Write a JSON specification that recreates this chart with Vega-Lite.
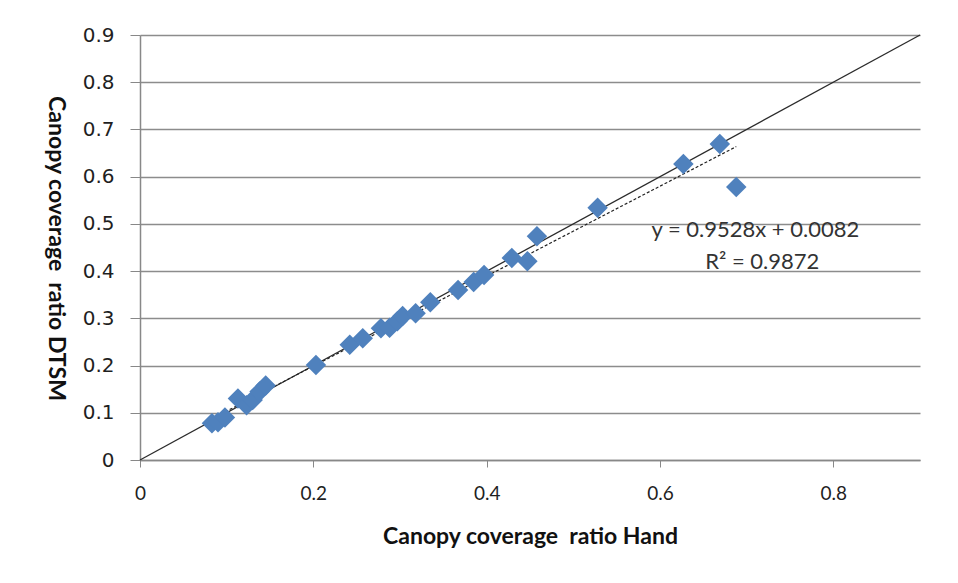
{
  "$schema": "https://vega.github.io/schema/vega-lite/v6.json",
  "autosize": {"type": "none"},
  "width": 780,
  "height": 425,
  "padding": {"left": 140, "top": 35, "right": 38, "bottom": 123},
  "background": "white",
  "config": {
    "view": {"stroke": null},
    "font": "Lato",
    "axis": {
      "titleFont": "Lato",
      "labelColor": "#1f1f1f",
      "titleColor": "#111111",
      "domainColor": "#888888",
      "tickColor": "#888888",
      "gridColor": "#8c8c8c",
      "titleFontSize": 23,
      "titleFontWeight": "bold",
      "labelFlush": false,
      "format": "~g"
    }
  },
  "datasets": {
    "obs": [
      {"hand": 0.083, "dtsm": 0.078},
      {"hand": 0.090, "dtsm": 0.080},
      {"hand": 0.098, "dtsm": 0.090},
      {"hand": 0.113, "dtsm": 0.130},
      {"hand": 0.123, "dtsm": 0.116},
      {"hand": 0.130, "dtsm": 0.127},
      {"hand": 0.138, "dtsm": 0.145},
      {"hand": 0.145, "dtsm": 0.158},
      {"hand": 0.203, "dtsm": 0.201},
      {"hand": 0.242, "dtsm": 0.244},
      {"hand": 0.257, "dtsm": 0.258},
      {"hand": 0.278, "dtsm": 0.279},
      {"hand": 0.288, "dtsm": 0.280},
      {"hand": 0.297, "dtsm": 0.294},
      {"hand": 0.303, "dtsm": 0.305},
      {"hand": 0.318, "dtsm": 0.311},
      {"hand": 0.335, "dtsm": 0.334},
      {"hand": 0.367, "dtsm": 0.360},
      {"hand": 0.385, "dtsm": 0.377},
      {"hand": 0.397, "dtsm": 0.392},
      {"hand": 0.429, "dtsm": 0.428},
      {"hand": 0.447, "dtsm": 0.421},
      {"hand": 0.458, "dtsm": 0.474},
      {"hand": 0.528, "dtsm": 0.534},
      {"hand": 0.627, "dtsm": 0.627},
      {"hand": 0.669, "dtsm": 0.669},
      {"hand": 0.688, "dtsm": 0.578}
    ],
    "oneToOne": [{"x0": 0, "y0": 0, "x1": 0.9, "y1": 0.9}],
    "fit": [{"x0": 0.083, "y0": 0.0873, "x1": 0.688, "y1": 0.6637}],
    "labels": [
      {"hand": 0.71, "dtsm": 0.487, "text": "y = 0.9528x + 0.0082"},
      {"hand": 0.718, "dtsm": 0.42, "text": "R² = 0.9872"}
    ]
  },
  "layer": [
    {
      "data": {"name": "oneToOne"},
      "mark": {"type": "rule", "color": "#2b2b2b", "strokeWidth": 1.3},
      "encoding": {
        "x": {
          "field": "x0", "type": "quantitative",
          "scale": {"domain": [0, 0.9], "nice": false, "zero": true},
          "axis": {
            "title": "Canopy coverage\u00a0 ratio Hand",
            "values": [0, 0.2, 0.4, 0.6, 0.8],
            "grid": false,
            "tickSize": 7,
            "labelFont": "Lato",
            "labelFontSize": 19,
            "labelPadding": 17,
            "titlePadding": 22,
            "domainWidth": 1.5
          }
        },
        "y": {
          "field": "y0", "type": "quantitative",
          "scale": {"domain": [0, 0.9], "nice": false},
          "axis": {
            "title": "Canopy coverage\u00a0 ratio DTSM",
            "titleAngle": 90,
            "titleX": -85,
            "titleY": 213,
            "titleAlign": "center",
            "titleBaseline": "middle",
            "values": [0, 0.1, 0.2, 0.3, 0.4, 0.5, 0.6, 0.7, 0.8, 0.9],
            "grid": true,
            "gridWidth": 1.5,
            "tickSize": 10,
            "labelFont": "DejaVu Sans",
            "labelFontSize": 20,
            "labelPadding": 16,
            "domainWidth": 1.5
          }
        },
        "x2": {"field": "x1"},
        "y2": {"field": "y1"}
      }
    },
    {
      "data": {"name": "fit"},
      "mark": {"type": "rule", "color": "#222222", "strokeWidth": 1.2, "strokeDash": [3, 2]},
      "encoding": {
        "x": {"field": "x0", "type": "quantitative"},
        "y": {"field": "y0", "type": "quantitative"},
        "x2": {"field": "x1"},
        "y2": {"field": "y1"}
      }
    },
    {
      "data": {"name": "obs"},
      "mark": {"type": "point", "shape": "diamond", "filled": true, "size": 420, "color": "#4f81bd", "opacity": 1},
      "encoding": {
        "x": {"field": "hand", "type": "quantitative"},
        "y": {"field": "dtsm", "type": "quantitative"}
      }
    },
    {
      "data": {"name": "labels"},
      "mark": {"type": "text", "font": "Lato", "fontSize": 22, "color": "#333333", "align": "center", "baseline": "middle"},
      "encoding": {
        "x": {"field": "hand", "type": "quantitative"},
        "y": {"field": "dtsm", "type": "quantitative"},
        "text": {"field": "text"}
      }
    }
  ]
}
